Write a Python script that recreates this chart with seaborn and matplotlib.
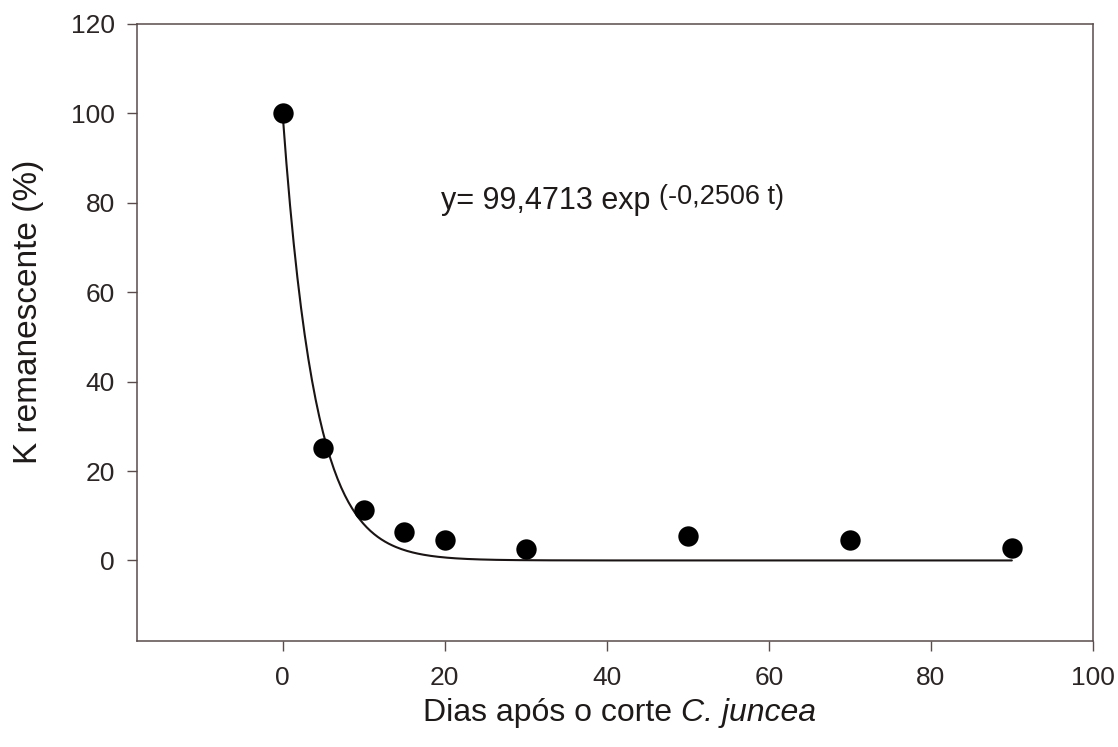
import numpy as np
import pandas as pd
import matplotlib
matplotlib.use("Agg")
import matplotlib.pyplot as plt
import seaborn as sns

# Data
dias = [0, 5, 10, 15, 20, 30, 50, 70, 90]
k_remanescente = [100, 25.2, 11.2, 6.3, 4.5, 2.5, 5.4, 4.5, 2.7]
coef_a = 99.4713
coef_k = 0.2506
x_ticks = [0, 20, 40, 60, 80, 100]
y_ticks = [0, 20, 40, 60, 80, 100, 120]
equation_main = "y= 99,4713 exp "
equation_sup = "(-0,2506 t)"
xlabel = "Dias após o corte "
xlabel_italic = "C. juncea"
ylabel = "K remanescente (%)"

sns.set_style("ticks")
plt.rcParams['font.family'] = ['Liberation Sans', 'DejaVu Sans']

fig = plt.figure(figsize=(11.18, 7.47), dpi=100)
ax = fig.add_axes([0.1225, 0.142, 0.855, 0.826])

df_pts = pd.DataFrame({"dias": dias, "k": k_remanescente})
t_fit = np.linspace(0, 90, 400)
df_fit = pd.DataFrame({"t": t_fit, "y": coef_a * np.exp(-coef_k * t_fit)})

sns.lineplot(data=df_fit, x="t", y="y", ax=ax, color="#1a1414", linewidth=1.5)
sns.scatterplot(data=df_pts, x="dias", y="k", ax=ax, color="black", s=215,
                edgecolor="black", linewidth=0, zorder=5)

ax.set_xlim(-18, 100)
ax.set_ylim(-18, 120)
ax.set_xticks(x_ticks)
ax.set_yticks(y_ticks)
ax.tick_params(axis='both', direction='out', length=7, width=1, color="#5a4c4c",
               labelsize=19, labelcolor="#2b2525")
ax.tick_params(axis='x', pad=11)
ax.tick_params(axis='y', pad=9)
ax.tick_params(top=False, right=False)
for s in ax.spines.values():
    s.set_visible(True)
    s.set_color("#5a4c4c")
    s.set_linewidth(1.1)

ax.set_xlabel("")
ax.set_ylabel(ylabel, fontsize=24, color="#1f1a1a")
ax.yaxis.set_label_coords(-0.097, 0.533)

# x label with italic part
t1 = fig.text(0.609, 0.026, xlabel, fontsize=23, color="#1f1a1a", ha='right', va='bottom')
fig.canvas.draw()
ax.annotate(xlabel_italic, xy=(1, 0), xycoords=t1, xytext=(0, 0), textcoords='offset points',
            fontsize=23, color="#1f1a1a", style='italic', ha='left', va='bottom')

# equation
tm = ax.text(19.5, 78.5, equation_main, fontsize=22, color="#1f1a1a", ha='left', va='baseline')
ax.annotate(equation_sup, xy=(1, 1), xycoords=tm, xytext=(0, 2), textcoords='offset points',
            fontsize=19.5, color="#1f1a1a", ha='left', va='top')

fig.savefig("out.png", dpi=100, facecolor="white")
